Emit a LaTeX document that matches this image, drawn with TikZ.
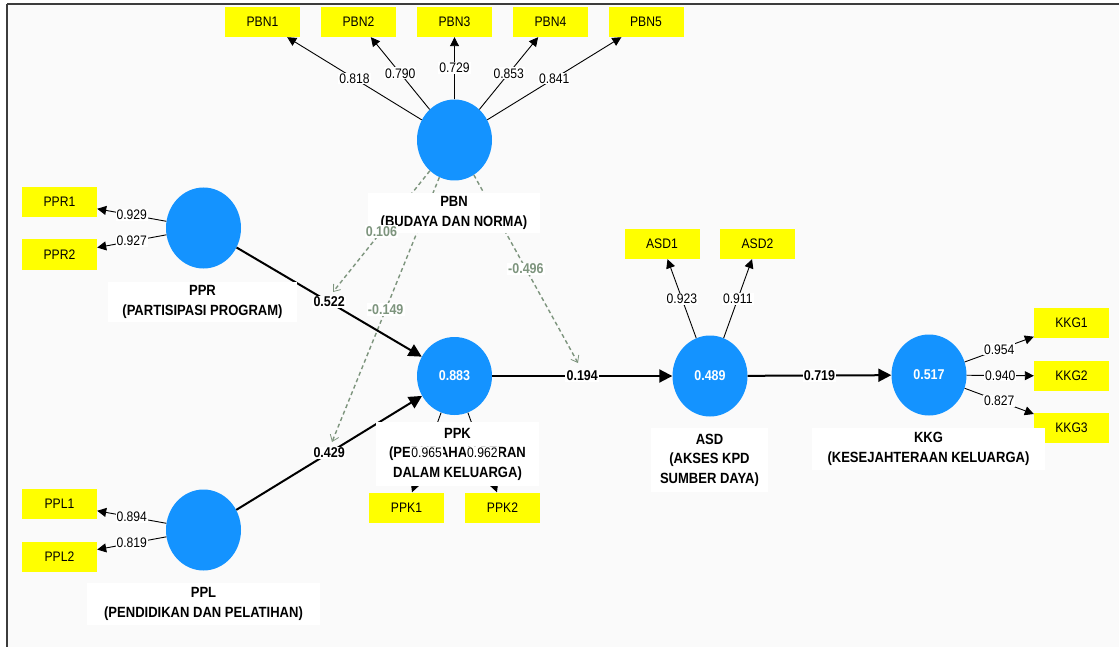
\documentclass[tikz,border=0pt]{standalone}
\usepackage{fontspec}
\setmainfont{Liberation Sans}[FakeStretch=0.88]
\usetikzlibrary{shapes.geometric,arrows.meta}
\definecolor{lvblue}{RGB}{20,147,255}
\definecolor{indyel}{RGB}{255,255,0}
\definecolor{modgray}{RGB}{125,148,125}
\definecolor{bgcol}{RGB}{250,250,250}
\definecolor{framecol}{RGB}{60,60,60}
\begin{document}
\begin{tikzpicture}[x=1pt,y=-1pt,
 lv/.style={ellipse, fill=lvblue, minimum width=75pt, minimum height=81pt, inner sep=0pt, text=white, font=\bfseries\fontsize{14.2}{16}\selectfont},
 ind/.style={rectangle, fill=indyel, minimum width=75pt, minimum height=30pt, inner sep=0pt, font=\fontsize{13.8}{16}\selectfont},
 lvlabel/.style={rectangle, fill=white, inner sep=0pt, align=center, font=\bfseries\fontsize{14.8}{19.5}\selectfont},
 load/.style={draw=black, line width=0.9pt, -{Triangle[length=9pt,width=9pt]}},
 lbl/.style={fill=white, inner sep=1pt, font=\fontsize{13.8}{16}\selectfont},
 strpath/.style={draw=black, line width=2pt, -{Triangle[length=13pt,width=13pt]}},
 pathlbl/.style={fill=white, inner sep=1.2pt, font=\bfseries\fontsize{14.2}{16}\selectfont},
 moder/.style={draw=modgray, line width=1.4pt, dash pattern=on 4pt off 3pt, -{Straight Barb[length=6pt,width=9pt,line width=0.8pt]}},
 modlbl/.style={fill=white, inner sep=1.2pt, text=modgray, font=\bfseries\fontsize{14.2}{16}\selectfont},
]
\useasboundingbox (0,0) rectangle (1119,647);
\fill[white] (0,0) rectangle (1119,647);
\fill[bgcol] (7,4) rectangle (1119,647);
\draw[framecol, line width=2pt] (7,4) -- (1119,4);
\draw[framecol, line width=1.5pt] (7,4) -- (7,647);

% latent variables
\node[lv] (pbn) at (454.5,140) {};
\node[lv] (ppr) at (203.5,228) {};
\node[lv] (ppl) at (203.5,530) {};
\node[lv, minimum height=78pt] (ppk) at (454.5,376) {0.883};
\node[lv] (asd) at (710,376) {0.489};
\node[lv] (kkg) at (929,375) {0.517};

% indicators
\node[ind] (pbn1) at (262.5,22) {PBN1};
\node[ind] (pbn2) at (358.5,22) {PBN2};
\node[ind] (pbn3) at (454.5,22) {PBN3};
\node[ind] (pbn4) at (550.5,22) {PBN4};
\node[ind] (pbn5) at (646,22) {PBN5};
\node[ind] (ppr1) at (59.5,202) {PPR1};
\node[ind] (ppr2) at (59.5,254.5) {PPR2};
\node[ind] (ppl1) at (59.5,504) {PPL1};
\node[ind] (ppl2) at (59.5,556.5) {PPL2};
\node[ind] (ppk1) at (406.5,507.5) {PPK1};
\node[ind] (ppk2) at (502.5,507.5) {PPK2};
\node[ind] (asd1) at (662,244) {ASD1};
\node[ind] (asd2) at (757.5,244) {ASD2};
\node[ind] (kkg1) at (1071.5,323) {KKG1};
\node[ind] (kkg2) at (1071.5,376) {KKG2};
\node[ind] (kkg3) at (1071.5,428) {KKG3};

% moderator targets
\coordinate (m1) at (333,292);
\coordinate (m2) at (332,442);
\coordinate (m3) at (578,363);

% outer loadings
\draw[load] (pbn) -- node[lbl]{0.818} (pbn1);
\draw[load] (pbn) -- node[lbl]{0.790} (pbn2);
\draw[load] (pbn) -- node[lbl]{0.729} (pbn3);
\draw[load] (pbn) -- node[lbl]{0.853} (pbn4);
\draw[load] (pbn) -- node[lbl]{0.841} (pbn5);
\draw[load] (ppr) -- node[lbl]{0.929} (ppr1);
\draw[load] (ppr) -- node[lbl]{0.927} (ppr2);
\draw[load] (ppl) -- node[lbl]{0.894} (ppl1);
\draw[load] (ppl) -- node[lbl]{0.819} (ppl2);
\draw[load] (ppk) -- (ppk1);
\draw[load] (ppk) -- (ppk2);
\draw[load] (asd) -- node[lbl]{0.923} (asd1);
\draw[load] (asd) -- node[lbl]{0.911} (asd2);
\draw[load] (kkg) -- node[lbl]{0.954} (kkg1);
\draw[load] (kkg) -- node[lbl]{0.940} (kkg2);
\draw[load] (kkg) -- node[lbl]{0.827} (kkg3);

% moderating effects
\draw[moder] (pbn) -- (m1);
\draw[moder] (pbn) -- (m2);
\draw[moder] (pbn) -- (m3);

% structural paths
\draw[strpath] (ppr) -- node[pathlbl]{0.522} (ppk);
\draw[strpath] (ppl) -- node[pathlbl]{0.429} (ppk);
\draw[strpath] (ppk) -- node[pathlbl]{0.194} (asd);
\draw[strpath] (asd) -- node[pathlbl]{0.719} (kkg);

% latent variable labels
\node[lvlabel, minimum width=172pt, minimum height=40pt] (pbnL) at (454,213) {PBN\\(BUDAYA DAN NORMA)};
\node[lvlabel, minimum width=189pt, minimum height=40pt] (pprL) at (202.5,302) {PPR\\(PARTISIPASI PROGRAM)};
\node[lvlabel, minimum width=233pt, minimum height=42pt] (pplL) at (203.5,604) {PPL\\(PENDIDIKAN DAN PELATIHAN)};
\node[lvlabel, minimum width=163pt, minimum height=64pt] (ppkL) at (457.5,454) {PPK\\(PERUBAHAN PERAN\\DALAM KELUARGA)};
\node[lvlabel, minimum width=117pt, minimum height=64pt] (asdL) at (709.5,460) {ASD\\(AKSES KPD\\SUMBER DAYA)};
\node[lvlabel, minimum width=233pt, minimum height=42pt] (kkgL) at (928.5,449) {KKG\\(KESEJAHTERAAN KELUARGA)};

% labels drawn over the label boxes
\path (ppk) -- node[lbl]{0.965} (ppk1);
\path (ppk) -- node[lbl]{0.962} (ppk2);
\path (pbn) -- node[modlbl]{0.106} (m1);
\path (pbn) -- node[modlbl]{-0.149} (m2);
\path (pbn) -- node[modlbl]{-0.496} (m3);
\end{tikzpicture}
\end{document}
